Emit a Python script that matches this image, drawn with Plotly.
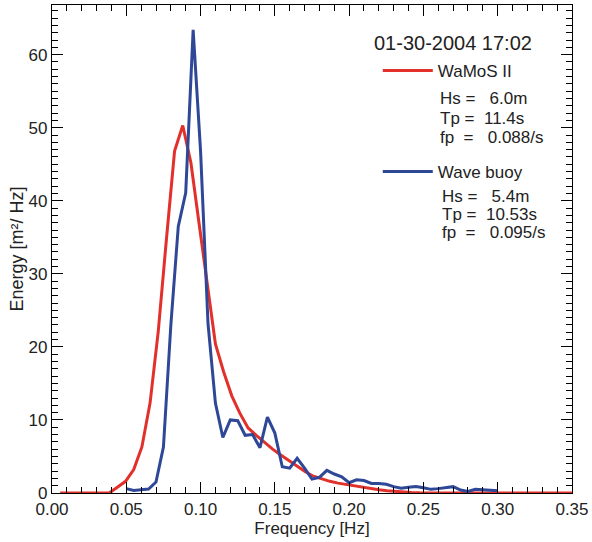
import plotly.graph_objects as go

# WaMoS II spectrum (frequency grid in Hz, energy in m^2/Hz)
wamos_freq = [0.0055, 0.011, 0.0165, 0.022, 0.0275, 0.033, 0.0385, 0.044, 0.0495, 0.055,
              0.0605, 0.066, 0.0715, 0.077, 0.0825, 0.088, 0.0935, 0.099, 0.1045, 0.11,
              0.1155, 0.121, 0.1265, 0.132, 0.1375, 0.143, 0.1485, 0.154, 0.1595, 0.165,
              0.1705, 0.176, 0.1815, 0.187, 0.1925, 0.198, 0.2035, 0.209, 0.2145, 0.22,
              0.2255, 0.231, 0.2365, 0.242, 0.2475, 0.253, 0.2585, 0.264, 0.2695, 0.275,
              0.2805, 0.286, 0.2915, 0.297, 0.3025, 0.308, 0.3135, 0.319, 0.3245, 0.33,
              0.3355, 0.341, 0.3465, 0.352]
wamos_energy = [0, 0, 0, 0, 0, 0, 0, 0.8, 1.6, 3.2,
                6.3, 12.3, 22.1, 34.7, 46.8, 50.3, 45.2, 36.9, 28.6, 20.4,
                16.6, 13.3, 10.9, 8.9, 7.9, 6.9, 6.0, 5.2, 4.4, 3.65,
                2.9, 2.3, 1.9, 1.6, 1.35, 1.15, 0.95, 0.8, 0.6, 0.45,
                0.3, 0.2, 0.12, 0.08, 0.05, 0.04, 0.03, 0.03, 0.02, 0.02,
                0.02, 0.02, 0.01, 0.01, 0.01, 0.01, 0.01, 0.01, 0, 0,
                0, 0, 0, 0]

# Wave buoy spectrum
buoy_freq = [0.050, 0.055, 0.060, 0.065, 0.070, 0.075, 0.080, 0.085, 0.090, 0.095,
             0.100, 0.105, 0.110, 0.115, 0.120, 0.125, 0.130, 0.135, 0.140, 0.145,
             0.150, 0.155, 0.160, 0.165, 0.170, 0.175, 0.180, 0.185, 0.190, 0.195,
             0.200, 0.205, 0.210, 0.215, 0.220, 0.225, 0.230, 0.235, 0.240, 0.245,
             0.250, 0.255, 0.260, 0.265, 0.270, 0.275, 0.280, 0.285, 0.290, 0.295,
             0.300]
buoy_energy = [0.6, 0.35, 0.45, 0.55, 1.5, 6.3, 23.0, 36.5, 41.1, 63.4,
               46.8, 23.2, 12.3, 7.6, 10.0, 9.9, 7.9, 8.0, 6.2, 10.4,
               8.2, 3.6, 3.4, 4.75, 3.4, 1.9, 2.15, 3.1, 2.6, 2.2,
               1.4, 1.8, 1.7, 1.3, 1.3, 1.2, 0.87, 0.64, 0.78, 0.9,
               0.73, 0.5, 0.6, 0.73, 0.87, 0.4, 0.2, 0.5, 0.45, 0.3,
               0.3]

series_names = ["WaMoS II", "Wave buoy"]
series_colors = ["#E2302B", "#2E4797"]
date_label = "01-30-2004 17:02"
wamos_stats = ["Hs =\u00a0\u00a0\u00a06.0m", "Tp =\u00a0\u00a011.4s", "fp\u00a0\u00a0=\u00a0\u00a0\u00a00.088/s"]
buoy_stats = ["Hs =\u00a0\u00a0\u00a05.4m", "Tp =\u00a0\u00a010.53s", "fp\u00a0\u00a0=\u00a0\u00a0\u00a00.095/s"]

FONT = "Liberation Sans, Arial, sans-serif"
TXT = "#222222"

fig = go.Figure()
fig.add_trace(go.Scatter(x=wamos_freq, y=wamos_energy, mode="lines", name=series_names[0],
                         line=dict(color=series_colors[0], width=3), legend="legend"))
fig.add_trace(go.Scatter(x=buoy_freq, y=buoy_energy, mode="lines", name=series_names[1],
                         line=dict(color=series_colors[1], width=3), legend="legend2"))

axis_common = dict(
    showgrid=False, zeroline=False, showline=True, linecolor="black", linewidth=1.3,
    mirror="ticks", ticks="inside", ticklen=11, tickwidth=1, tickcolor="black",
    tickfont=dict(family=FONT, size=17, color=TXT),
)

fig.update_layout(
    width=592, height=542,
    margin=dict(l=52, r=20, t=5, b=49),
    paper_bgcolor="white", plot_bgcolor="white",
    font=dict(family=FONT, size=17, color=TXT),
    xaxis=dict(range=[0, 0.35001], dtick=0.05, tick0=0, tickformat=".2f",
               minor=dict(dtick=0.01, ticks="inside", ticklen=6, tickwidth=1, tickcolor="black", showgrid=False),
               title=dict(text="Frequency [Hz]", font=dict(family=FONT, size=17, color=TXT), standoff=0),
               automargin=False, **axis_common),
    yaxis=dict(range=[0, 66.8], dtick=10, tick0=0,
               minor=dict(dtick=1, ticks="inside", ticklen=6, tickwidth=1, tickcolor="black", showgrid=False),
               title=dict(text="Energy [m²/ Hz]", font=dict(family=FONT, size=18, color=TXT), standoff=0),
               automargin=False, **axis_common),
    legend=dict(x=0.6265, y=0.8648, xanchor="left", yanchor="middle", bgcolor="rgba(0,0,0,0)",
                itemwidth=50, font=dict(family=FONT, size=17, color=TXT)),
    legend2=dict(x=0.6265, y=0.6578, xanchor="left", yanchor="middle", bgcolor="rgba(0,0,0,0)",
                 itemwidth=50, font=dict(family=FONT, size=17, color=TXT)),
    showlegend=True,
)

fig.add_annotation(text=date_label, xref="paper", yref="paper", x=0.6154, y=0.9221,
                   xanchor="left", yanchor="middle", showarrow=False,
                   font=dict(family=FONT, size=20, color=TXT))

ys1 = [0.8074, 0.7684, 0.7295]
ys2 = [0.6086, 0.5697, 0.5328]
for t, yy in zip(wamos_stats, ys1):
    fig.add_annotation(text=t, xref="paper", yref="paper", x=0.7423, y=yy,
                       xanchor="left", yanchor="middle", showarrow=False,
                       font=dict(family=FONT, size=17, color=TXT))
for t, yy in zip(buoy_stats, ys2):
    fig.add_annotation(text=t, xref="paper", yref="paper", x=0.7462, y=yy,
                       xanchor="left", yanchor="middle", showarrow=False,
                       font=dict(family=FONT, size=17, color=TXT))

fig.write_html("out.html", config={"displayModeBar": False},
               post_script="document.body.style.margin='0';")
